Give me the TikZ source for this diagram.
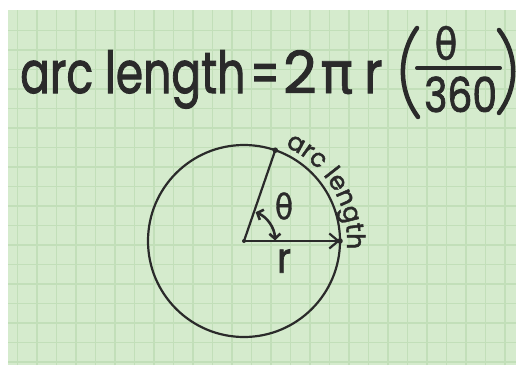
\documentclass[tikz,border=0pt]{standalone}
\usepackage{fontspec}
\setmainfont{Poppins}[FakeBold=1.8]
\newfontfamily\gr{DejaVu Sans}[FakeBold=1]
\usetikzlibrary{decorations.text,arrows.meta,calc}
\definecolor{bg}{HTML}{D5EBCD}
\definecolor{gridc}{HTML}{C2DFB9}
\definecolor{ink}{HTML}{2A2A2A}
\tikzset{
  big/.style={inner sep=0pt, text=ink, font=\fontsize{58}{60}\selectfont},
  lbl/.style={inner sep=0pt, text=ink},
  stroke/.style={draw=ink, line width=2.2pt, line cap=round},
  paren/.style={draw=ink, line width=4.5pt, line cap=round},
  gridline/.style={draw=gridc, line width=1.2pt},
}
\begin{document}
\begin{tikzpicture}[x=1pt,y=1pt]
\useasboundingbox (0,0) rectangle (516,365);
\fill[white] (0,0) rectangle (516,365);
\fill[bg] (8,0) rectangle (516,355);
\foreach \x in {17.5,37,...,516} \draw[gridline] (\x,0) -- (\x,355);
\foreach \y in {334.5,315,...,0} \draw[gridline] (8,\y) -- (516,\y);
% formula
\node[big, anchor=base west] (t1) at (20,272) {\scalebox{0.76}[1]{arc length}};
\node[big] (t2) at (265,286) {\scalebox{0.7}[1]{=}};
\node[big, anchor=base west] (t3) at (283,272) {2};
\node[big, anchor=base west] (t4) at (320,272) {\gr\scalebox{0.95}[1]{π}};
\node[big, anchor=base west] (t5) at (364,272) {\scalebox{0.85}[1]{r}};
\node[lbl, font=\gr\fontsize{44}{46}\selectfont] (th) at (446,322) {\scalebox{0.85}[1]{θ}};
\node[big, anchor=base west, font=\fontsize{48}{50}\selectfont] (n360) at (424,253) {\scalebox{0.82}[1]{360}};
\coordinate (barL) at (417,297);
\coordinate (barR) at (500,297);
\draw[paren, line width=4pt] (barL) -- (barR);
\coordinate (pl1) at (417,337); \coordinate (pl2) at (418,248);
\coordinate (pr1) at (499,335); \coordinate (pr2) at (499,252);
\draw[paren] (pl1) .. controls (398,310) and (398,275) .. (pl2);
\draw[paren] (pr1) .. controls (518,310) and (518,277) .. (pr2);
% circle
\coordinate (O) at (244,124);
\coordinate (P) at ($(O)+(71:96pt)$);
\coordinate (Q) at ($(O)+(0:96pt)$);
\draw[stroke] (O) circle[radius=96pt];
\draw[stroke] (O) -- (P);
\draw[stroke, -{Straight Barb[length=9pt,width=15pt,line width=2.2pt]}] (O) -- (Q);
\fill[ink] (O) circle[radius=2pt];
\fill[ink] (P) circle[radius=2.8pt];
\fill[ink] (Q) circle[radius=2.8pt];
\draw[stroke, line width=2.6pt, {Straight Barb[length=5pt,width=11pt]}-{Straight Barb[length=5pt,width=11pt]}] ($(O)+(1:31pt)$) arc[start angle=1,end angle=68,radius=31pt];
\node[lbl, font=\gr\fontsize{35}{35}\selectfont] (thl) at (284,159) {\scalebox{0.85}[1]{θ}};
\node[lbl, font=\fontsize{42}{42}\selectfont] (rl) at (284,104) {\scalebox{0.9}[1]{r}};
\path[decorate, decoration={text along path, text align=center,
  text={|\fontsize{25}{25}\selectfont\color{ink}|arc length}}]
  ($(O)+(70:103pt)$) arc[start angle=70,end angle=-8,radius=103pt];
\end{tikzpicture}
\end{document}
